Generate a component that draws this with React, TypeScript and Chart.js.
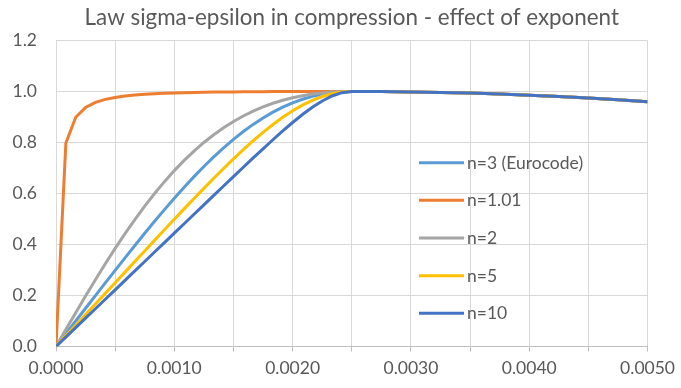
import React, { useEffect, useRef } from "react";
import { Chart, registerables } from "chart.js";

Chart.register(...registerables);

// strain values (ascending branch then descending branch)
const strainRise = [
  0, 0.0000833, 0.0001667, 0.00025, 0.0003333, 0.0004167, 0.0005, 0.0005833,
  0.0006667, 0.00075, 0.0008333, 0.0009167, 0.001, 0.0010833, 0.0011667,
  0.00125, 0.0013333, 0.0014167, 0.0015, 0.0015833, 0.0016667, 0.00175,
  0.0018333, 0.0019167, 0.002, 0.0020833, 0.0021667, 0.00225, 0.0023333,
  0.0024167, 0.0025,
];
const strainFall = [
  0.00275, 0.003, 0.00325, 0.0035, 0.00375, 0.004, 0.00425, 0.0045, 0.00475, 0.005,
];
const stressFall = [
  0.9996, 0.9984, 0.9964, 0.9936, 0.99, 0.9856, 0.9804, 0.9744, 0.9676, 0.96,
];

const n3 = [
  0, 0.05, 0.1, 0.1499, 0.1998, 0.2494, 0.2988, 0.3478, 0.3962, 0.444, 0.4909,
  0.5368, 0.5814, 0.6246, 0.6661, 0.7059, 0.7436, 0.7791, 0.8123, 0.8429,
  0.871, 0.8963, 0.9188, 0.9385, 0.9554, 0.9695, 0.9808, 0.9894, 0.9954,
  0.9988, 1,
];
const n101 = [
  0, 0.7974, 0.8991, 0.9375, 0.9573, 0.9691, 0.9767, 0.9821, 0.986, 0.9889,
  0.9911, 0.9929, 0.9942, 0.9953, 0.9962, 0.997, 0.9975, 0.998, 0.9984,
  0.9988, 0.999, 0.9993, 0.9995, 0.9996, 0.9997, 0.9998, 0.9999, 0.9999, 1,
  1, 1,
];
const n2 = [
  0, 0.0666, 0.1327, 0.198, 0.262, 0.3243, 0.3846, 0.4426, 0.4979, 0.5505,
  0.6, 0.6464, 0.6897, 0.7297, 0.7664, 0.8, 0.8305, 0.8579, 0.8824, 0.904,
  0.9231, 0.9396, 0.9538, 0.9657, 0.9756, 0.9836, 0.9898, 0.9945, 0.9976,
  0.9994, 1,
];
const n5 = [
  0, 0.0417, 0.0833, 0.125, 0.1667, 0.2083, 0.25, 0.2916, 0.3332, 0.3748,
  0.4162, 0.4576, 0.4987, 0.5396, 0.5801, 0.6202, 0.6596, 0.6981, 0.7357,
  0.772, 0.8068, 0.8397, 0.8705, 0.8988, 0.9243, 0.9466, 0.9653, 0.9803,
  0.9912, 0.9978, 1,
];
const n10 = [
  0, 0.037, 0.0741, 0.1111, 0.1481, 0.1852, 0.2222, 0.2593, 0.2963, 0.3333,
  0.3704, 0.4074, 0.4444, 0.4815, 0.5185, 0.5555, 0.5925, 0.6294, 0.6662,
  0.7029, 0.7393, 0.7753, 0.8108, 0.8453, 0.8784, 0.9096, 0.938, 0.9627,
  0.9823, 0.9953, 1,
];

const seriesLabels = ["n=3 (Eurocode)", "n=1.01", "n=2", "n=5", "n=10"];
const seriesColors = ["#5B9BD5", "#ED7D31", "#A5A5A5", "#FFC000", "#4472C4"];
const seriesValues = [n3, n101, n2, n5, n10];
const seriesOrder = [4, 3, 2, 1, 0];

const yTicks = [0, 0.2, 0.4, 0.6, 0.8, 1.0, 1.2];

const FONT = "Lato, 'Open Sans', sans-serif";
const TEXT = "#595959";

const legendPlugin = {
  id: "insideLegend",
  afterDraw(chart: any) {
    const ctx = chart.ctx;
    const ys = [162.7, 200.3, 238.1, 275.7, 313.3];
    ctx.save();
    chart.data.datasets.forEach((ds: any, i: number) => {
      const y = ys[i];
      ctx.strokeStyle = ds.borderColor;
      ctx.lineWidth = 3;
      ctx.lineCap = "butt";
      ctx.beginPath();
      ctx.moveTo(419, y);
      ctx.lineTo(464, y);
      ctx.stroke();
      ctx.fillStyle = TEXT;
      ctx.font = `17.5px ${FONT}`;
      ctx.textBaseline = "middle";
      ctx.textAlign = "left";
      ctx.fillText(ds.label, 467, y + 0.5);
    });
    ctx.restore();
  },
};

export default function App() {
  const ref = useRef<HTMLCanvasElement | null>(null);

  useEffect(() => {
    document.body.style.margin = "0";
    const strain = [...strainRise, ...strainFall];
    const datasets = seriesValues.map((vals, i) => {
      const stress = [...vals, ...stressFall];
      return {
        label: seriesLabels[i],
        data: strain.map((x, j) => ({ x, y: stress[j] })),
        borderColor: seriesColors[i],
        backgroundColor: seriesColors[i],
        borderWidth: 3,
        pointRadius: 0,
        tension: 0,
        fill: false,
        order: seriesOrder[i],
      };
    });

    const chart = new Chart(ref.current!, {
      type: "line",
      data: { datasets },
      options: {
        responsive: false,
        animation: false,
        layout: { padding: { left: 0, right: 30.5, top: 0, bottom: 0 } },
        plugins: {
          legend: { display: false },
          tooltip: { enabled: false },
          title: {
            display: true,
            fullSize: false,
            text: "Law sigma-epsilon in compression - effect of exponent",
            color: TEXT,
            font: { family: FONT, size: 22.4, weight: "normal", lineHeight: 1.2 },
            padding: { top: 4, bottom: 9.6 },
          },
        },
        scales: {
          x: {
            type: "linear",
            min: 0,
            max: 0.005,
            afterFit: (s: any) => {
              s.height = 41.5;
            },
            border: { color: "#BFBFBF", width: 1 },
            grid: {
              color: "#D9D9D9",
              tickColor: "#BFBFBF",
              tickLength: 5,
              drawTicks: true,
            },
            ticks: {
              stepSize: 0.0005,
              autoSkip: false,
              maxRotation: 0,
              padding: 6,
              color: TEXT,
              font: { family: FONT, size: 17.5 },
              callback: (v: any) =>
                Math.round(Number(v) / 0.0005) % 2 === 0 ? Number(v).toFixed(4) : "",
            },
          },
          y: {
            type: "linear",
            min: 0,
            max: 1.2,
            afterFit: (s: any) => {
              s.width = 56;
            },
            afterBuildTicks: (s: any) => {
              s.ticks = yTicks.map((v) => ({ value: v }));
            },
            border: { color: "#D9D9D9", width: 1 },
            grid: { color: "#D9D9D9", drawTicks: false },
            ticks: {
              padding: 19,
              color: TEXT,
              font: { family: FONT, size: 17.5 },
              callback: (v: any) => Number(v).toFixed(1),
            },
          },
        },
      },
      plugins: [legendPlugin],
    } as any);
    return () => chart.destroy();
  }, []);

  return (
    <div style={{ width: 681, height: 388 }}>
      <canvas ref={ref} width={681} height={388} style={{ display: "block" }} />
    </div>
  );
}
